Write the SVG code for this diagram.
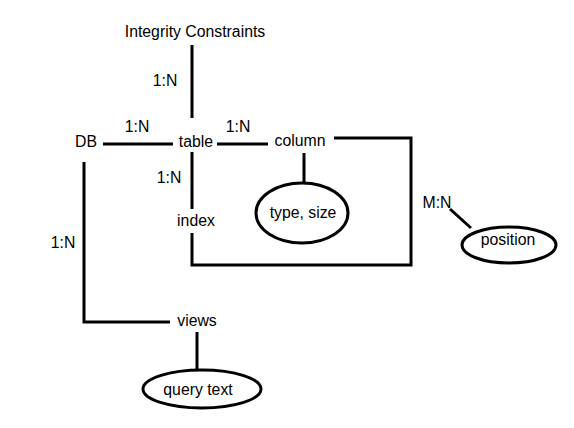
<svg xmlns="http://www.w3.org/2000/svg" width="574" height="428" viewBox="0 0 574 428">
<style>
text{font-family:"Liberation Sans",Arial,sans-serif;font-size:15.8px;fill:#000;text-anchor:middle}
.c line,.c polyline{stroke:#000;stroke-width:3;fill:none}
ellipse{fill:#fff;stroke:#000;stroke-width:3}
</style>
<rect width="574" height="428" fill="#fff"/>
<g class="c" id="connectors">
<line x1="192" y1="45" x2="192" y2="118"/>
<line x1="103" y1="144" x2="173" y2="144"/>
<line x1="217" y1="144" x2="268" y2="144"/>
<polyline points="334,138 411,138 411,265 192,265 192,233"/>
<line x1="192" y1="152" x2="192" y2="209"/>
<line x1="304" y1="153" x2="304" y2="183"/>
<line x1="450" y1="209" x2="471" y2="228"/>
<polyline points="84,162 84,322 170,322"/>
<line x1="197" y1="332" x2="197" y2="371"/>
<text x="165" y="86">1:N</text>
<text x="137" y="132">1:N</text>
<text x="238" y="132">1:N</text>
<text x="169" y="183">1:N</text>
<text x="437" y="208">M:N</text>
<text x="63" y="248">1:N</text>
</g>
<g id="integrity"><text x="195" y="37">Integrity Constraints</text></g>
<g id="db"><text x="86" y="147">DB</text></g>
<g id="table"><text x="196" y="147">table</text></g>
<g id="column"><text x="300" y="146">column</text></g>
<g id="index"><text x="196" y="226">index</text></g>
<g id="typesize"><ellipse cx="302" cy="213" rx="46" ry="30"/><text x="303" y="218">type, size</text></g>
<g id="position"><ellipse cx="509" cy="245" rx="47" ry="18"/><text x="508" y="245">position</text></g>
<g id="views"><text x="197" y="326">views</text></g>
<g id="querytext"><ellipse cx="202" cy="389" rx="59" ry="19"/><text x="198" y="395">query text</text></g>
</svg>
